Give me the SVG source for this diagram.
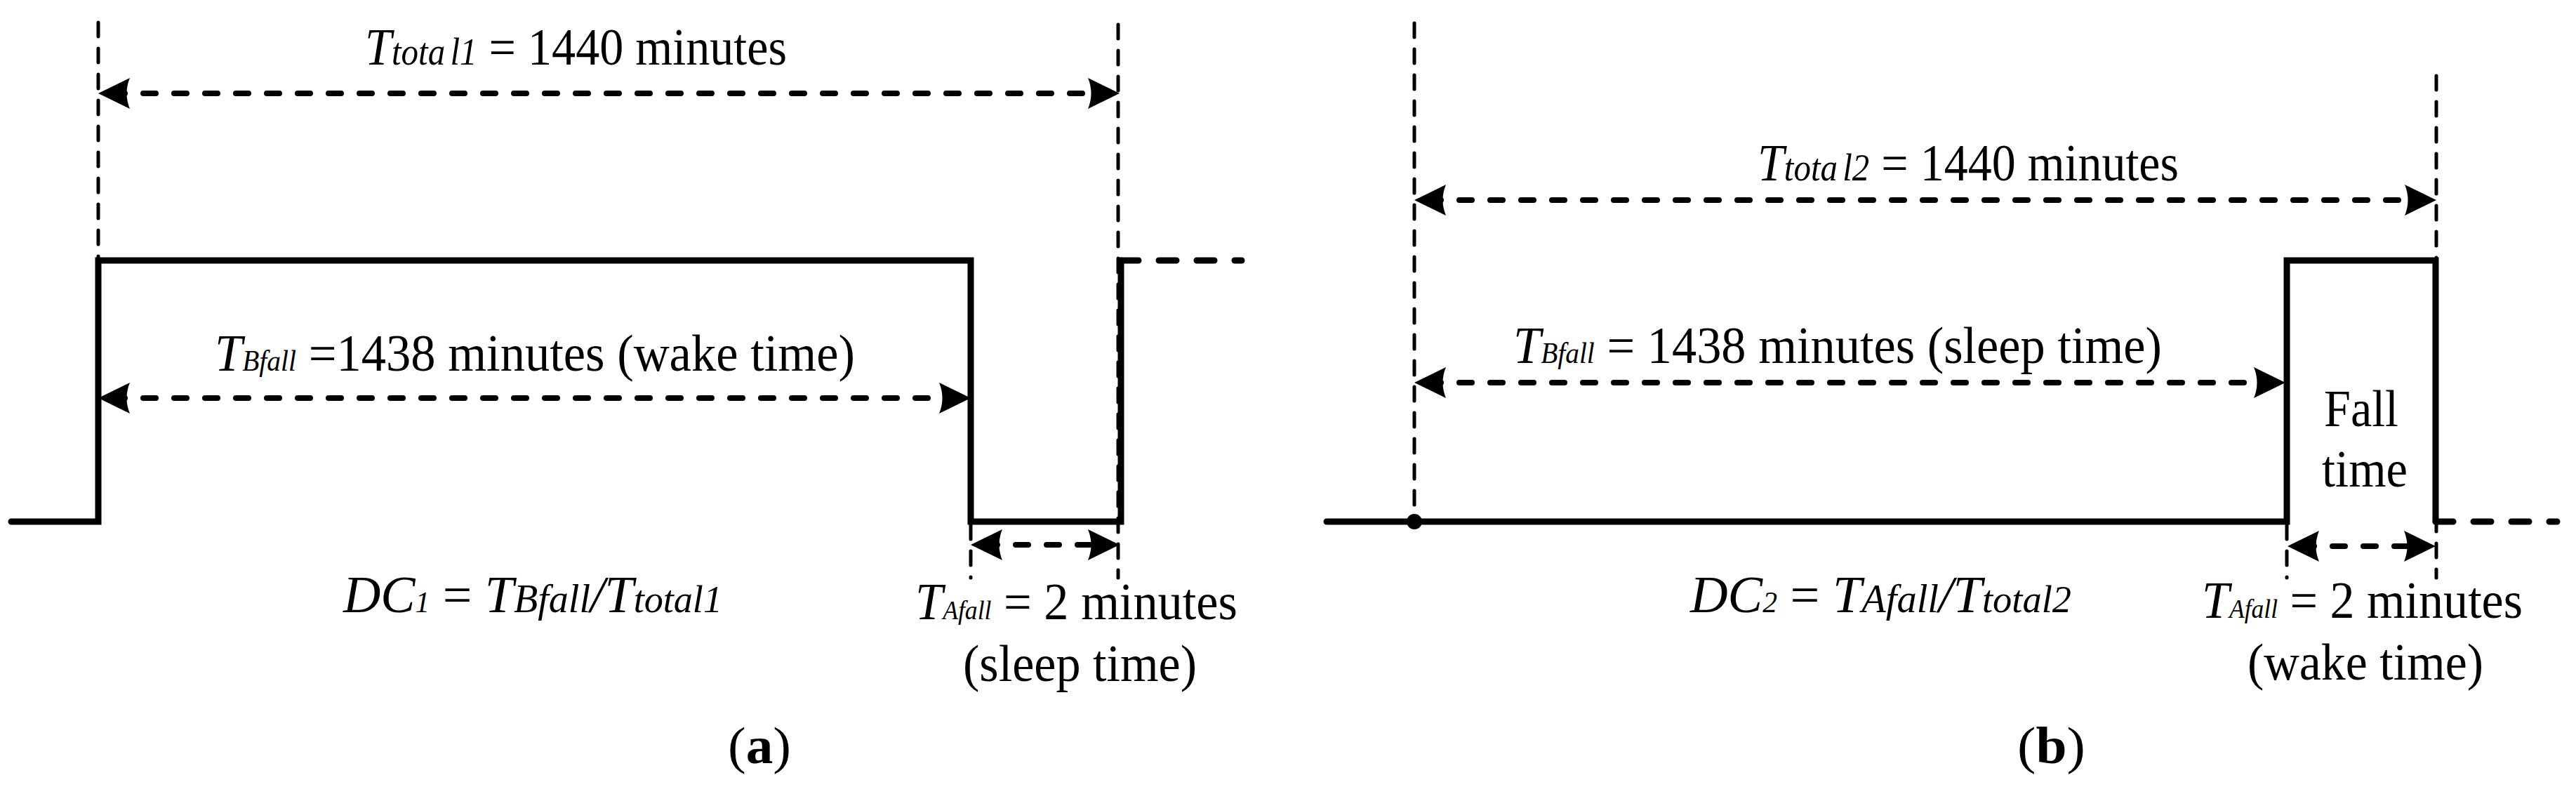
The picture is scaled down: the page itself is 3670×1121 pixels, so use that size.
<svg xmlns="http://www.w3.org/2000/svg" width="3670" height="1121" viewBox="0 0 3670 1121">
<style>
.wave{fill:none;stroke:#000;stroke-width:9;stroke-linecap:round;stroke-linejoin:miter}
.wdash{fill:none;stroke:#000;stroke-width:9;stroke-linecap:round;stroke-dasharray:25 29}
.guide{fill:none;stroke:#000;stroke-width:5;stroke-linecap:round;stroke-dasharray:20 17}
.dim{fill:none;stroke:#000;stroke-width:8;stroke-linecap:round;stroke-dasharray:18 26;marker-start:url(#ah);marker-end:url(#ah)}
text{font-family:"Liberation Serif","Times New Roman",serif;font-size:75px;fill:#000}
.i{font-style:italic}
.b{font-weight:bold}
</style>
<defs>
<marker id="ah" markerUnits="userSpaceOnUse" orient="auto-start-reverse" viewBox="-30 -24 54 48" markerWidth="54" markerHeight="48" refX="0" refY="0">
<path d="M20,0 L-25,-22 Q-16,0 -25,22 Z" fill="#000"/>
</marker>
</defs>
<rect width="3670" height="1121" fill="#fff"/>

<g id="panel-a">
  <g id="a-guides">
    <path class="guide" d="M140,32 V366"/>
    <path class="guide" d="M1593,35 V823"/>
    <path class="guide" d="M1383,748 V823"/>
  </g>
  <g id="a-waveform">
    <path class="wave" d="M16,743 H140 V371 H1383 V743 H1597 V371"/>
    <path class="wdash" d="M1597,371 H1769"/>
  </g>
  <g id="a-labels">
    <text id="a-ttotal" x="520" y="92" textLength="601" lengthAdjust="spacingAndGlyphs"><tspan class="i">T</tspan><tspan class="i" font-size="54">tota<tspan dx="8">l1</tspan></tspan> = 1440 minutes</text>
    <text id="a-tbfall" x="306" y="528" textLength="912" lengthAdjust="spacingAndGlyphs"><tspan class="i">T</tspan><tspan class="i" font-size="42">Bfall</tspan> =1438 minutes (wake time)</text>
    <text id="a-dc" x="489" y="872" textLength="540" lengthAdjust="spacingAndGlyphs"><tspan class="i">DC</tspan><tspan class="i" font-size="42">1</tspan> = <tspan class="i">T</tspan><tspan class="i" font-size="57">Bfall</tspan><tspan class="i">/T</tspan><tspan class="i" font-size="55">total1</tspan></text>
    <text id="a-tafall" x="1304" y="882" textLength="459" lengthAdjust="spacingAndGlyphs"><tspan class="i">T</tspan><tspan class="i" font-size="38">Afall</tspan> = 2 minutes</text>
    <text id="a-sleep" x="1372" y="970" textLength="333" lengthAdjust="spacingAndGlyphs">(sleep time)</text>
    <text id="a-caption" x="1037" y="1087" font-size="76" textLength="90" lengthAdjust="spacingAndGlyphs">(<tspan class="b">a</tspan>)</text>
  </g>
</g>

<g id="panel-b">
  <g id="b-guides">
    <path class="guide" d="M2015,33 V743"/>
    <path class="guide" d="M3471,108 V823"/>
    <path class="guide" d="M3258,748 V823"/>
  </g>
  <g id="b-waveform">
    <path class="wave" d="M1890,743 H3258 V371 H3470 V743"/>
    <path class="wdash" d="M3470,743 H3643"/>
    <circle cx="2015" cy="743" r="11" fill="#000"/>
  </g>
  <g id="b-labels">
    <text id="b-ttotal" x="2504" y="257" textLength="600" lengthAdjust="spacingAndGlyphs"><tspan class="i">T</tspan><tspan class="i" font-size="54">tota<tspan dx="8">l2</tspan></tspan> = 1440 minutes</text>
    <text id="b-tbfall" x="2156" y="517" textLength="924" lengthAdjust="spacingAndGlyphs"><tspan class="i">T</tspan><tspan class="i" font-size="42">Bfall</tspan> = 1438 minutes (sleep time)</text>
    <text id="b-fall" x="3364" y="607" text-anchor="middle" textLength="106" lengthAdjust="spacingAndGlyphs">Fall</text>
    <text id="b-time" x="3369" y="693" text-anchor="middle" textLength="122" lengthAdjust="spacingAndGlyphs">time</text>
    <text id="b-dc" x="2408" y="872" textLength="543" lengthAdjust="spacingAndGlyphs"><tspan class="i">DC</tspan><tspan class="i" font-size="42">2</tspan> = <tspan class="i">T</tspan><tspan class="i" font-size="57">Afall</tspan><tspan class="i">/T</tspan><tspan class="i" font-size="55">total2</tspan></text>
    <text id="b-tafall" x="3137" y="880" textLength="457" lengthAdjust="spacingAndGlyphs"><tspan class="i">T</tspan><tspan class="i" font-size="38">Afall</tspan> = 2 minutes</text>
    <text id="b-wake" x="3202" y="968" textLength="336" lengthAdjust="spacingAndGlyphs">(wake time)</text>
    <text id="b-caption" x="2874" y="1087" font-size="78" textLength="97" lengthAdjust="spacingAndGlyphs">(<tspan class="b">b</tspan>)</text>
  </g>
</g>

<g id="connectors">
  <path class="dim" d="M160,133 H1575"/>
  <path class="dim" d="M160,567 H1363"/>
  <path class="dim" d="M1403,776 H1575"/>
  <path class="dim" d="M2035,285 H3451"/>
  <path class="dim" d="M2035,545 H3236"/>
  <path class="dim" d="M3279,778 H3450"/>
</g>
</svg>
